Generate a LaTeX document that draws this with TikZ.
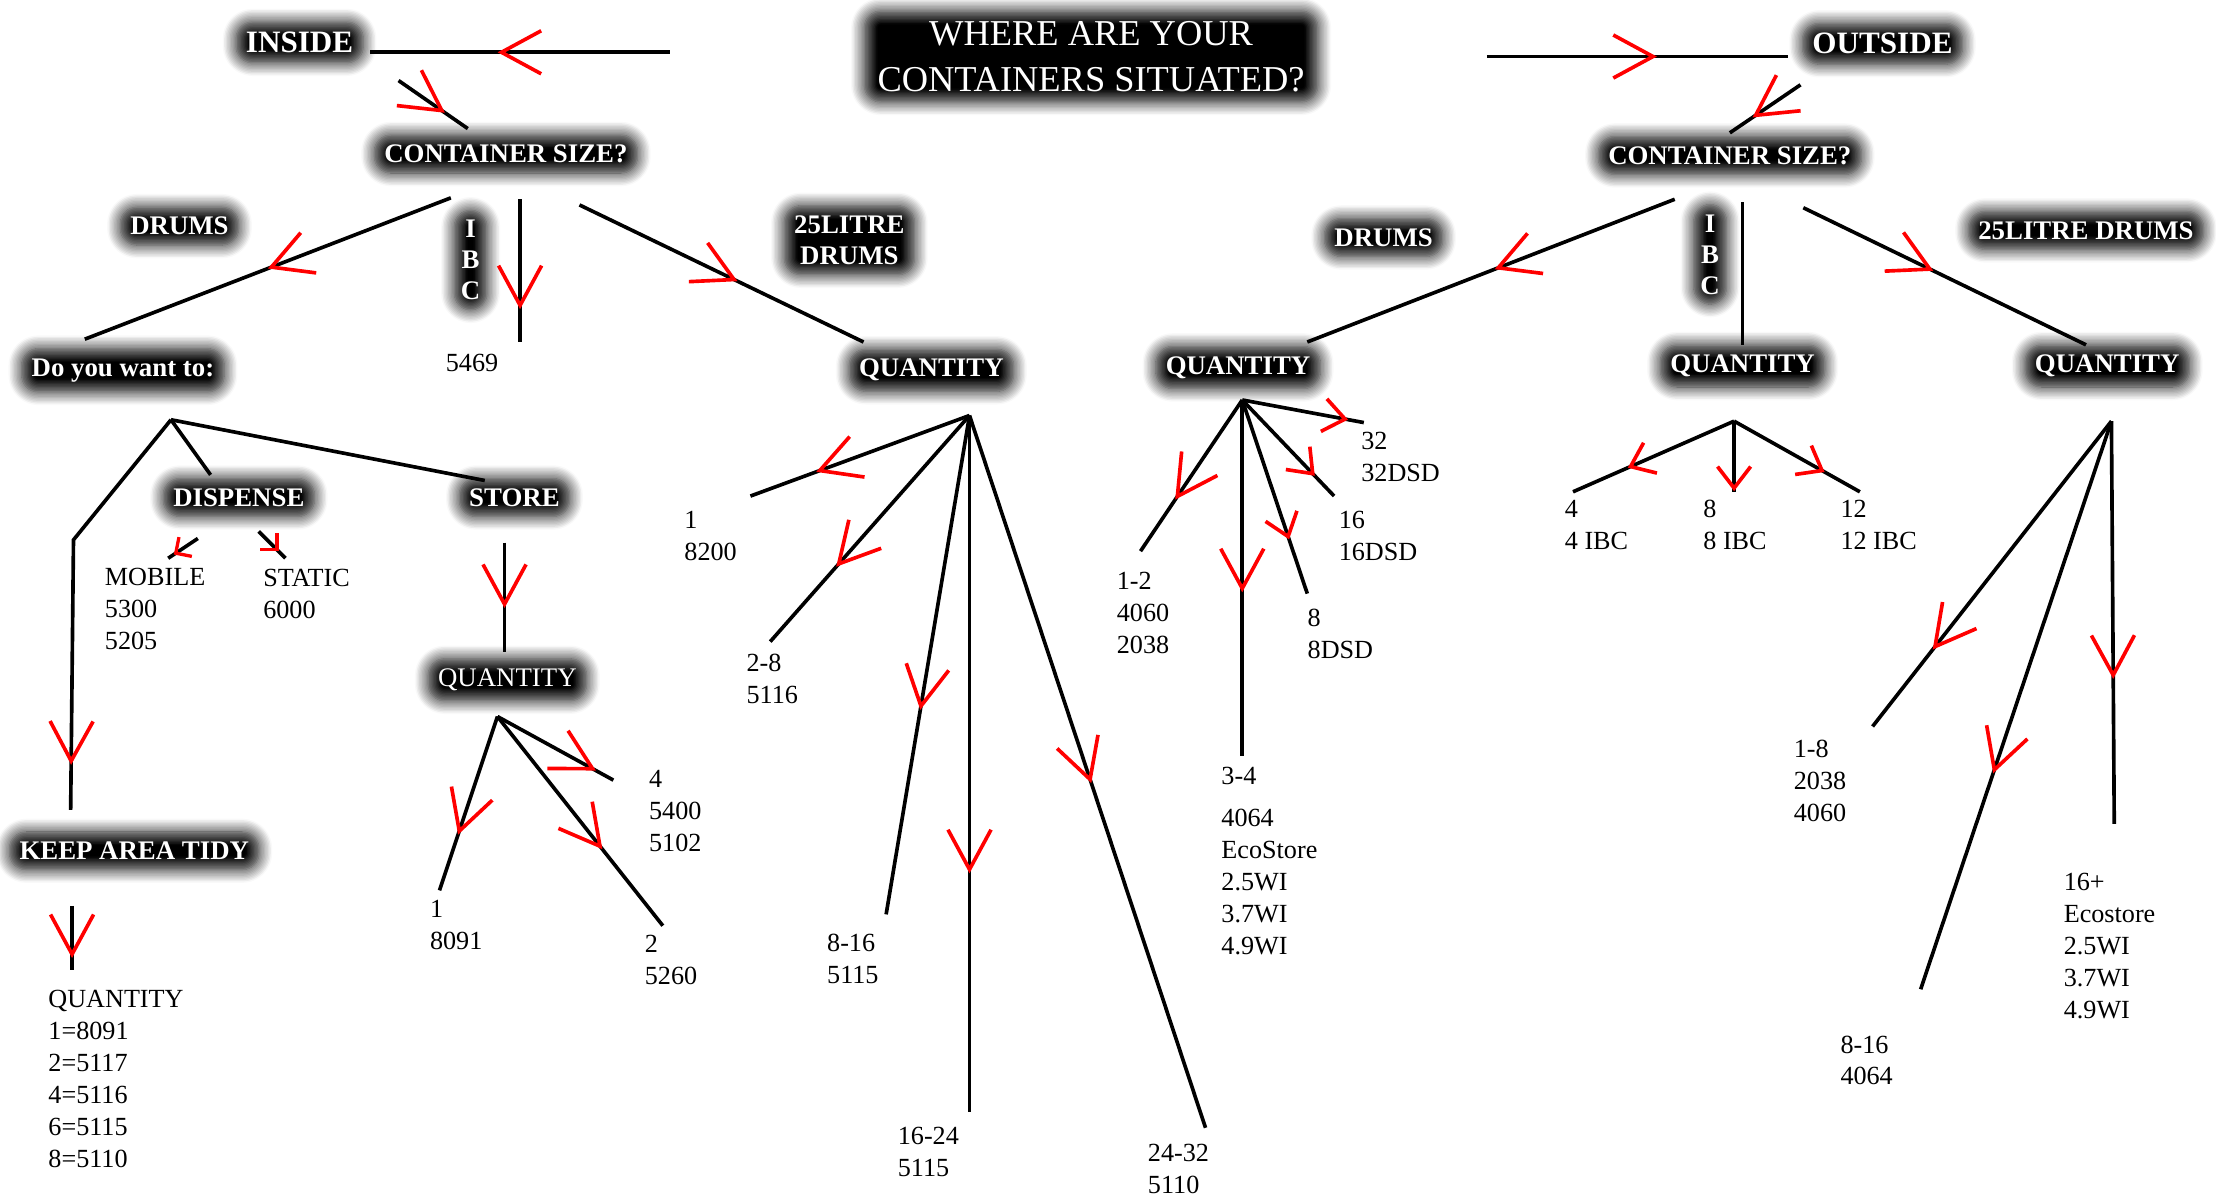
\documentclass[tikz,border=0pt]{standalone}
\usepackage{fontspec}
\setmainfont{Liberation Serif}
\usetikzlibrary{arrows.meta,decorations.markings,shadows.blur,positioning}

\tikzset{
  bigvee/.tip={Straight Barb[color=red,length=12pt,width=13pt,line width=1.1pt]},
  midvee/.tip={Straight Barb[color=red,length=6.5pt,width=10pt,line width=1.1pt]},
  tinyvee/.tip={Straight Barb[color=red,length=3.5pt,width=7pt,line width=1pt]},
  flow/.style={postaction={decorate},decoration={markings,mark=at position #1 with {\arrow{bigvee}}}},
  midflow/.style={postaction={decorate},decoration={markings,mark=at position #1 with {\arrow{midvee}}}},
  tinyflow/.style={postaction={decorate},decoration={markings,mark=at position #1 with {\arrow{tinyvee}}}},
  glow/.style={text=white, rounded corners=5pt, inner xsep=3pt, inner ysep=3pt,
    font=\bfseries\fontsize{8.1}{9.4}\selectfont, align=center,
    blur shadow={shadow xshift=0pt, shadow yshift=0pt, shadow blur radius=4pt,
      shadow opacity=100, shadow blur steps=10}},
  figs/.style={anchor=north west, inner sep=0pt, align=left, font=\fontsize{7.9}{9.65}\selectfont}
}

\begin{document}
\begin{tikzpicture}[x=0.15mm, y=-0.15mm, line width=1.1pt]
\useasboundingbox (0,0) rectangle (1568,846);

% headings
\node[glow, font=\fontsize{11}{14}\selectfont, inner xsep=4pt] (where) at (772,40) {WHERE ARE YOUR\\CONTAINERS SITUATED?};
\node[glow, font=\bfseries\fontsize{9.4}{11}\selectfont] (inside) at (212,30) {INSIDE};
\node[glow, font=\bfseries\fontsize{9.4}{11}\selectfont] (outside) at (1332,31) {OUTSIDE};
\node[glow] (csL) at (358,109) {CONTAINER SIZE?};
\node[glow] (csR) at (1224,110) {CONTAINER SIZE?};

% inside labels
\node[glow] (drumsL) at (127,160) {DRUMS};
\node[glow, inner xsep=2pt, font=\bfseries\fontsize{8.1}{9.35}\selectfont] (ibcL) at (333,184) {I\\B\\C};
\node[glow] (litL) at (601,170) {25LITRE\\DRUMS};
\node[glow] (dowant) at (87,262) {Do you want to:};
\node[glow] (qL25) at (659,262) {QUANTITY};
\node[glow] (dispense) at (169,352) {DISPENSE};
\node[glow] (store) at (364,352) {STORE};
\node[glow, font=\fontsize{8.1}{9.4}\selectfont] (qStore) at (359,481) {QUANTITY};
\node[glow] (keep) at (95,602) {KEEP AREA TIDY};

% outside labels
\node[glow] (drumsR) at (979,168) {DRUMS};
\node[glow, inner xsep=2pt, font=\bfseries\fontsize{8.1}{9.35}\selectfont] (ibcR) at (1210,180) {I\\B\\C};
\node[glow] (litR) at (1476,163) {25LITRE DRUMS};
\node[glow] (qRdr) at (876,260) {QUANTITY};
\node[glow] (qRibc) at (1233,259) {QUANTITY};
\node[glow] (qR25) at (1491,259) {QUANTITY};

% product codes
\node[figs, anchor=center] (n5469) at (334,257) {5469};
\node[figs] (mobile) at (73,400.5) {MOBILE\\5300\\5205};
\node[figs] (static) at (185,401.5) {STATIC\\6000};
\node[figs] (s1) at (303,635.5) {1\\8091};
\node[figs] (s4) at (458,543.5) {4\\5400\\5102};
\node[figs] (s2) at (455,660.5) {2\\5260};
\node[figs] (tidy) at (33,699.5) {QUANTITY\\1=8091\\2=5117\\4=5116\\6=5115\\8=5110};
\node[figs] (a1) at (483,360.5) {1\\8200};
\node[figs] (a2) at (527,461.5) {2-8\\5116};
\node[figs] (a3) at (584,659.5) {8-16\\5115};
\node[figs] (a4) at (634,796.5) {16-24\\5115};
\node[figs] (a5) at (811,808.5) {24-32\\5110};
\node[figs] (d1) at (789,403.5) {1-2\\4060\\2038};
\node[figs] (d2) at (863,541.5) {3-4\\[3pt]4064\\EcoStore\\2.5WI\\3.7WI\\4.9WI};
\node[figs] (d3) at (924,429.5) {8\\8DSD};
\node[figs] (d4) at (946,360.5) {16\\16DSD};
\node[figs] (d5) at (962,304.5) {32\\32DSD};
\node[figs] (i1) at (1106,352.5) {4\\4 IBC};
\node[figs] (i2) at (1204,352.5) {8\\8 IBC};
\node[figs] (i3) at (1301,352.5) {12\\12 IBC};
\node[figs] (r1) at (1268,522.5) {1-8\\2038\\4060};
\node[figs] (r2) at (1301,731.5) {8-16\\4064};
\node[figs] (r3) at (1459,616.5) {16+\\Ecostore\\2.5WI\\3.7WI\\4.9WI};

% line ends and branch points
\coordinate (tl-a) at (474,37);   \coordinate (tl-b) at (262,37);
\coordinate (tr-a) at (1052,40);  \coordinate (tr-b) at (1265,40);
\coordinate (il-a) at (282,57);   \coordinate (il-b) at (331,91);
\coordinate (ir-a) at (1274,60);  \coordinate (ir-b) at (1224,94);
\coordinate (csl-d) at (319,140); \coordinate (dw-t) at (60,240);
\coordinate (csl-i) at (368,141); \coordinate (ibcl-e) at (368,242);
\coordinate (csl-l) at (410,145); \coordinate (ql25-t) at (611,242);
\coordinate (dw-f) at (121,297);  \coordinate (dw-k) at (52,382);
\coordinate (tidy-t) at (50,573); \coordinate (disp-t) at (149,336);
\coordinate (store-t) at (343,340);
\coordinate (mob-a) at (140,381); \coordinate (mob-b) at (119,395);
\coordinate (sta-a) at (183,376); \coordinate (sta-b) at (202,395);
\coordinate (store-b) at (357,384); \coordinate (qs-t) at (357,461);
\coordinate (qs-f) at (352,507);
\coordinate (s1-e) at (311,630);  \coordinate (s2-e) at (469,655);
\coordinate (s4-e) at (434,552);
\coordinate (tidy-b) at (51,641); \coordinate (tidy-e) at (51,686);
\coordinate (ql25-f) at (686,294);
\coordinate (a1-e) at (531,351);  \coordinate (a2-e) at (545,454);
\coordinate (a3-e) at (627,647);  \coordinate (a4-e) at (686,787);
\coordinate (a5-e) at (853,798);
\coordinate (csr-d) at (1185,141); \coordinate (qrd-t) at (925,242);
\coordinate (csr-i) at (1233,143); \coordinate (qri-t) at (1233,244);
\coordinate (csr-l) at (1276,147); \coordinate (qr25-t) at (1476,244);
\coordinate (qrd-f) at (879,283);
\coordinate (d1-e) at (807,390);  \coordinate (d2-e) at (879,535);
\coordinate (d3-e) at (925,420);  \coordinate (d4-e) at (944,351);
\coordinate (d5-e) at (965,299);
\coordinate (qri-f) at (1227,298);
\coordinate (i1-e) at (1113,348); \coordinate (i2-e) at (1227,348);
\coordinate (i3-e) at (1316,348);
\coordinate (qr25-f) at (1494,298);
\coordinate (r1-e) at (1325,514); \coordinate (r2-e) at (1359,700);
\coordinate (r3-e) at (1496,583);

% inside or outside
\draw[flow=0.575] (tl-a) -- (tl-b);
\draw[flow=0.565] (tr-a) -- (tr-b);
\draw[flow=0.67] (il-a) -- (il-b);
\draw[flow=0.68] (ir-a) -- (ir-b);

% inside
\draw[flow=0.5] (csl-d) -- (dw-t);
\draw[flow=0.77] (csl-i) -- (ibcl-e);
\draw[flow=0.557] (csl-l) -- (ql25-t);
\draw[flow=0.894] (dw-f) -- (dw-k) -- (tidy-t);
\draw (dw-f) -- (disp-t);
\draw (dw-f) -- (store-t);
\draw[tinyflow=0.81] (mob-a) -- (mob-b);
\draw[tinyflow=0.74] (sta-a) -- (sta-b);
\draw[flow=0.6] (store-b) -- (qs-t);
\foreach \e/\p in {s1-e/0.68, s2-e/0.635, s4-e/0.85}
  \draw[flow=\p] (qs-f) -- (\e);
\draw[flow=0.82] (tidy-b) -- (tidy-e);
\foreach \e/\p in {a1-e/0.70, a2-e/0.67, a3-e/0.59, a4-e/0.657, a5-e/0.516}
  \draw[flow=\p] (ql25-f) -- (\e);

% outside
\draw[flow=0.49] (csr-d) -- (qrd-t);
\draw (csr-i) -- (qri-t);
\draw[flow=0.46] (csr-l) -- (qr25-t);
\draw[flow=0.66] (qrd-f) -- (d1-e);
\draw[flow=0.54] (qrd-f) -- (d2-e);
\foreach \e/\p in {d3-e/0.72, d4-e/0.79, d5-e/0.87}
  \draw[midflow=\p] (qrd-f) -- (\e);
\foreach \e/\p in {i1-e/0.66, i2-e/0.99, i3-e/0.72}
  \draw[midflow=\p] (qri-f) -- (\e);
\foreach \e/\p in {r1-e/0.75, r2-e/0.62, r3-e/0.64}
  \draw[flow=\p] (qr25-f) -- (\e);
\end{tikzpicture}
\end{document}
